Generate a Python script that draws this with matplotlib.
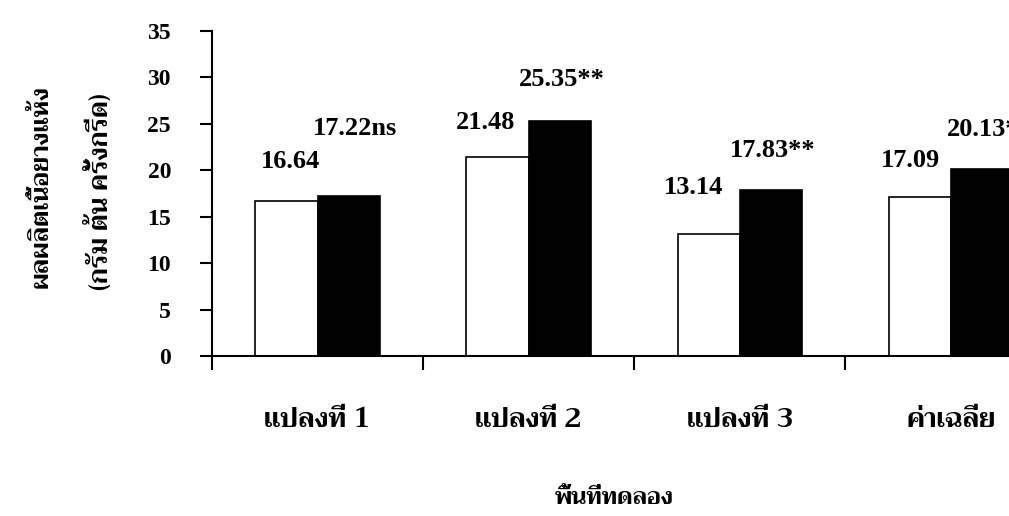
import numpy as np
import matplotlib.pyplot as plt
from matplotlib.ticker import FixedLocator

# data: dry rubber yield per plot, two treatments
plots = ["แปลงที่ 1", "แปลงที่ 2", "แปลงที่ 3", "ค่าเฉลี่ย"]
control = [16.64, 21.48, 13.14, 17.09]
treated = [17.22, 25.35, 17.83, 20.13]
treated_marks = ["ns", "**", "**", "**"]

ylabel_lines = ["ผลผลิตเนื้อยางแห้ง", "(กรัม ต้น ครั้งกรีด)"]
xlabel = "พื้นที่ทดลอง"

# where each value label sits relative to its bar (x in category units, y in data units)
ctrl_dx = [0.02, -0.056, -0.07, -0.046]
ctrl_dy = [4.36, 3.7, 5.06, 3.97]
trt_dx = [0.032, 0.008, 0.008, 0.037]
trt_dy = [7.3, 4.4, 4.25, 4.3]

num_font = ["Liberation Serif", "DejaVu Serif"]
thai_font = ["Trirong", "Maitree", "Liberation Serif"]

W, H = 1009, 516
fig = plt.figure(figsize=(W / 100, H / 100), dpi=100)
ax = fig.add_axes([212 / W, (H - 356) / H, (W - 212) / W, 325 / H])

x = np.arange(len(plots))
bw = 0.295
ax.bar(x - bw / 2, control, bw, color="white", edgecolor="black", linewidth=1.2, zorder=2)
ax.bar(x + bw / 2, treated, bw, color="black", edgecolor="black", linewidth=1.2, zorder=2)

for i in range(len(plots)):
    ax.text(x[i] - bw / 2 + ctrl_dx[i], control[i] + ctrl_dy[i], f"{control[i]:.2f}",
            ha="center", va="center", fontsize=19, family=num_font, fontweight="bold",
            clip_on=False)
    ax.text(x[i] + bw / 2 + trt_dx[i], treated[i] + trt_dy[i], f"{treated[i]:.2f}{treated_marks[i]}",
            ha="center", va="center", fontsize=19, family=num_font, fontweight="bold",
            clip_on=False)

ax.set_xlim(-0.5, (W - 318) / 211)
ax.set_ylim(0, 35)
ax.set_yticks(np.arange(0, 36, 5))
for lab in ax.get_yticklabels():
    lab.set_family(num_font)
    lab.set_fontweight("bold")
    lab.set_fontsize(17)

# tick marks between categories, labels centred under each group
ax.xaxis.set_major_locator(FixedLocator([-0.5, 0.5, 1.5, 2.5]))
ax.xaxis.set_minor_locator(FixedLocator(x))
ax.set_xticklabels([], minor=False)
ax.set_xticklabels(plots, minor=True, family=thai_font, fontsize=19.5, fontweight="bold")
ax.tick_params(axis="x", which="major", direction="out", length=10, width=1.5)
ax.tick_params(axis="x", which="minor", length=0, pad=37)
ax.tick_params(axis="y", direction="out", length=8.5, width=1.5, pad=21)

for side in ["top", "right"]:
    ax.spines[side].set_visible(False)
ax.spines["left"].set_linewidth(1.5)
ax.spines["bottom"].set_linewidth(1.5)

fig.text(42 / W, 1 - 187 / H, ylabel_lines[0], rotation=90, ha="center", va="center",
         family=thai_font, fontsize=18, fontweight="bold")
fig.text(100 / W, 1 - 192 / H, ylabel_lines[1], rotation=90, ha="center", va="center",
         family=thai_font, fontsize=18.5, fontweight="bold")
fig.text(614 / W, 1 - 498 / H, xlabel, ha="center", va="center",
         family=thai_font, fontsize=17, fontweight="bold")

fig.savefig("out.png", dpi=100)
